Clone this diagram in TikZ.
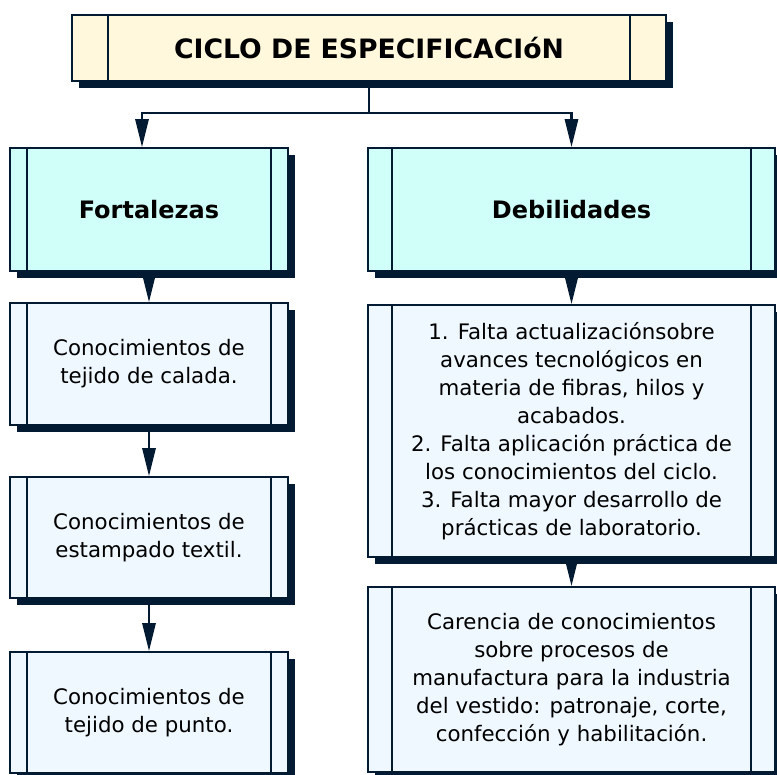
\documentclass[tikz,border=0pt]{standalone}
\usepackage{fontspec}
\setmainfont{DejaVu Sans}
\usetikzlibrary{arrows.meta,calc,shadows}
\definecolor{navy}{HTML}{021B33}
\definecolor{cream}{HTML}{FFF8DC}
\definecolor{aqua}{HTML}{D0FFFA}
\definecolor{pale}{HTML}{F0F8FF}
\tikzset{
  proc/.style 2 args={draw=navy, line width=1.5pt, inner sep=0pt, align=center,
    minimum width=#1*0.75pt, minimum height=#2*0.75pt,
    drop shadow={shadow xshift=5.25pt, shadow yshift=-5.25pt, fill=navy, opacity=1},
    path picture={
      \draw[navy, line width=1.5pt]
        ($(path picture bounding box.north west)!0.06!(path picture bounding box.north east)$) --
        ($(path picture bounding box.south west)!0.06!(path picture bounding box.south east)$)
        ($(path picture bounding box.north west)!0.94!(path picture bounding box.north east)$) --
        ($(path picture bounding box.south west)!0.94!(path picture bounding box.south east)$);
    }},
  titlebox/.style={fill=cream, font=\bfseries\fontsize{20}{24}\selectfont},
  headbox/.style={fill=aqua, font=\bfseries\fontsize{18}{22}\selectfont},
  itembox/.style={fill=pale, font=\fontsize{16}{21}\selectfont},
  link/.style={draw=navy, line width=1.6pt, -{Triangle[length=21pt, width=10pt]}}
}
\begin{document}
\begin{tikzpicture}[x=0.75pt, y=-0.75pt]
    \useasboundingbox (0,0) rectangle (777,774);
    % title
    \node[proc={594}{66}, titlebox] (title) at (369,48) {CICLO DE ESPECIFICACIóN};
    % two columns
    \node[proc={278}{123}, headbox] (fort) at (149,209.5) {Fortalezas};
    \node[proc={407}{123}, headbox] (deb) at (571.5,209.5) {Debilidades};
    % strengths
    \node[proc={278}{122}, itembox] (fort1) at (149,364) {Conocimientos de\\tejido de calada.};
    \node[proc={278}{121}, itembox] (fort2) at (149,537.5) {Conocimientos de\\estampado textil.};
    \node[proc={278}{121}, itembox] (fort3) at (149,712.5) {Conocimientos de\\tejido de punto.};
    % weaknesses
    \node[proc={407}{252}, itembox] (deb1) at (571.5,431) {1. Falta actualizaciónsobre\\avances tecnológicos en\\materia de fibras, hilos y\\acabados.\\2. Falta aplicación práctica de\\los conocimientos del ciclo.\\3. Falta mayor desarrollo de\\prácticas de laboratorio.};
    \node[proc={407}{185}, itembox] (deb2) at (571.5,679.5) {Carencia de conocimientos\\sobre procesos de\\manufactura para la industria\\del vestido: patronaje, corte,\\confección y habilitación.};
    % connectors
    \coordinate (bus) at (368,113);
    \draw[navy, line width=1.6pt] (title.south) -- (title.south |- bus);
    \draw[link] (title.south |- bus) -| ([xshift=-5.25pt]fort.north);
    \draw[link] (title.south |- bus) -| (deb.north);
    \draw[link] (fort) -- (fort1);
    \draw[link] (fort1) -- (fort2);
    \draw[link] (fort2) -- (fort3);
    \draw[link] (deb) -- (deb1);
    \draw[link] (deb1) -- (deb2);
\end{tikzpicture}
\end{document}
